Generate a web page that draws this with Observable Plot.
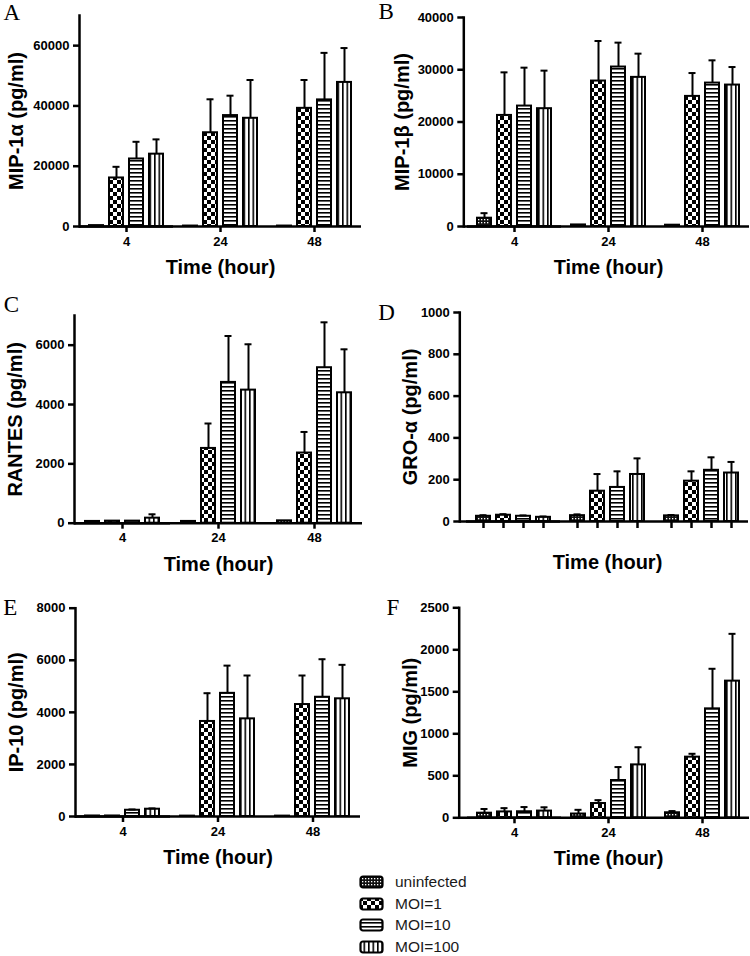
<!DOCTYPE html>
<html><head><meta charset="utf-8">
<script src="https://cdn.jsdelivr.net/npm/d3@7"></script>
<script src="https://cdn.jsdelivr.net/npm/@observablehq/plot@0.6"></script>
<style>
body{margin:0;background:#fff;}
#root{position:relative;width:750px;height:956px;overflow:hidden;background:#fff;}
.panel{position:absolute;}
#legend{position:absolute;left:359px;top:871px;font-family:'Liberation Sans',Arial,sans-serif;font-size:15.5px;color:#1a1a1a;}
.lrow{display:flex;align-items:center;height:21.7px;}
.lrow svg{margin-right:11px;}
</style></head><body>
<svg width="0" height="0" style="position:absolute">
<defs>
<pattern id="p-uninf" width="3" height="3" patternUnits="userSpaceOnUse"><rect width="3" height="3" fill="#111"/><rect x="0" y="0" width="1.3" height="1.3" fill="#fff"/></pattern>
<pattern id="p-moi1" width="8" height="8" patternUnits="userSpaceOnUse"><rect width="8" height="8" fill="#fff"/><rect width="4" height="4" fill="#000"/><rect x="4" y="4" width="4" height="4" fill="#000"/></pattern>
<pattern id="p-moi10" width="4" height="4" patternUnits="userSpaceOnUse"><rect width="4" height="4" fill="#fff"/><rect y="0" width="4" height="1.6" fill="#000"/></pattern>
<pattern id="p-moi100" width="4.5" height="4" patternUnits="userSpaceOnUse"><rect width="4.5" height="4" fill="#fff"/><rect x="0" width="1.6" height="4" fill="#000"/></pattern>
</defs></svg>
<div id="root"></div>
<script>
// ---------- data ----------
const times = ["4", "24", "48"];
const series = ["uninfected", "MOI=1", "MOI=10", "MOI=100"];
const xTitle = "Time (hour)";

// rows: time 4, 24, 48 ; columns: uninfected, MOI=1, MOI=10, MOI=100
const mip1aMean = [[300, 16100, 22400, 24000], [150, 31100, 36800, 35900], [150, 39200, 42000, 47800]];
const mip1aSD   = [[0, 3700, 5700, 4900], [0, 11100, 6600, 12700], [0, 9400, 15600, 11400]];
const mip1aTicks = [0, 20000, 40000, 60000];

const mip1bMean = [[1590, 21260, 23050, 22550], [300, 27840, 30520, 28540], [250, 24900, 27450, 27070]];
const mip1bSD   = [[960, 8240, 7350, 7280], [0, 7660, 4670, 4540], [0, 4470, 4350, 3450]];
const mip1bTicks = [0, 10000, 20000, 30000, 40000];

const rantesMean = [[60, 70, 70, 170], [60, 2520, 4745, 4485], [80, 2365, 5240, 4395]];
const rantesSD   = [[0, 0, 0, 130], [0, 840, 1565, 1545], [0, 710, 1530, 1465]];
const rantesTicks = [0, 2000, 4000, 6000];

const groMean = [[25, 30, 25, 20], [28, 145, 163, 225], [27, 193, 245, 232]];
const groSD   = [[5, 5, 4, 4], [6, 82, 77, 77], [4, 47, 62, 53]];
const groTicks = [0, 200, 400, 600, 800, 1000];

const ip10Mean = [[20, 20, 240, 280], [15, 3650, 4730, 3750], [15, 4300, 4580, 4520]];
const ip10SD   = [[0, 0, 30, 30], [0, 1085, 1065, 1665], [0, 1115, 1460, 1305]];
const ip10Ticks = [0, 2000, 4000, 6000, 8000];

const migMean = [[55, 70, 72, 80], [45, 170, 444, 630], [60, 722, 1297, 1627]];
const migSD   = [[50, 45, 56, 45], [50, 40, 160, 210], [20, 40, 477, 563]];
const migTicks = [0, 500, 1000, 1500, 2000, 2500];

// ---------- styling / layout ----------
const patternFills = ["url(#p-uninf)", "url(#p-moi1)", "url(#p-moi10)", "url(#p-moi100)"];
const sans = "'Liberation Sans', Arial, Helvetica, sans-serif";
const serif = "'Liberation Serif', 'Times New Roman', serif";

const panels = [
  {letter: "A", title: "MIP-1α (pg/ml)", mean: mip1aMean, sd: mip1aSD, ticks: mip1aTicks, max: 70000,
   left: 0, top: 0, mt: 15, mr: 13, mb: 64, ml: 78, shift: 0, ylab: -62.7, lx: -76, ly: -2.5, timeLabels: true},
  {letter: "B", title: "MIP-1β (pg/ml)", mean: mip1bMean, sd: mip1bSD, ticks: mip1bTicks, max: 40000,
   left: 375, top: 0, mt: 17, mr: 0, mb: 64, ml: 91, shift: -3.7, ylab: -61.7, lx: -85.3, ly: -5.7, timeLabels: true},
  {letter: "C", title: "RANTES (pg/ml)", mean: rantesMean, sd: rantesSD, ticks: rantesTicks, max: 7000,
   left: 0, top: 290, mt: 25, mr: 13, mb: 57.3, ml: 74, shift: 0, ylab: -58.7, lx: -70.7, ly: -11.2, timeLabels: true},
  {letter: "D", title: "GRO-α (pg/ml)", mean: groMean, sd: groSD, ticks: groTicks, max: 1000,
   left: 375, top: 290, mt: 22, mr: 2, mb: 59, ml: 90, shift: -6.7, ylab: -49, lx: -81.6, ly: -0.3, timeLabels: false},
  {letter: "E", title: "IP-10 (pg/ml)", mean: ip10Mean, sd: ip10SD, ticks: ip10Ticks, max: 8000,
   left: 0, top: 580, mt: 27.7, mr: 14, mb: 54, ml: 74, shift: 0, ylab: -58.7, lx: -72.3, ly: -1, timeLabels: true},
  {letter: "F", title: "MIG (pg/ml)", mean: migMean, sd: migSD, ticks: migTicks, max: 2500,
   left: 375, top: 580, mt: 27.3, mr: 0, mb: 52.7, ml: 91, shift: -8.3, ylab: -48.4, lx: -72.7, ly: -0.6, timeLabels: true}
];

function makePanel(p) {
  const rows = [];
  times.forEach((t, i) => series.forEach((s, j) => rows.push({
    time: t, series: s, value: p.mean[i][j], sd: p.sd[i][j], hi: p.mean[i][j] + p.sd[i][j]
  })));
  const errs = rows.filter(d => d.sd > 0);
  const marks = [
    Plot.barY(rows, {fx: "time", x: "series", y: "value", fill: "series", stroke: "#000", strokeWidth: 2}),
    Plot.ruleX(errs, {fx: "time", x: "series", y1: "value", y2: "hi", stroke: "#000", strokeWidth: 2}),
    Plot.tickY(errs, {fx: "time", x: "series", y: "hi", stroke: "#000", strokeWidth: 2, insetLeft: 3.5, insetRight: 3.5}),
    Plot.ruleY([0], {stroke: "#000", strokeWidth: 2.5}),
    Plot.ruleY([0], {facetAnchor: "left", insetLeft: p.shift, stroke: "#000", strokeWidth: 2.5}),
    Plot.frame({anchor: "left", facetAnchor: "left", dx: p.shift, stroke: "#000", strokeWidth: 2.5}),
    Plot.axisY({ticks: p.ticks, tickFormat: "d", tickSize: 6, tickPadding: 4, dx: p.shift, strokeWidth: 2.5,
      fontSize: 13, fontWeight: "bold", fontFamily: sans, label: null}),
    Plot.text([p.title], {text: d => d, frameAnchor: "left", facetAnchor: "left", rotate: -90,
      dx: p.shift + p.ylab, fontSize: 20, fontWeight: "bold", fontFamily: sans, lineAnchor: "middle", textAnchor: "middle"}),
    Plot.text([p.letter], {text: d => d, frameAnchor: "top-left", facetAnchor: "left",
      dx: p.shift + p.lx, dy: p.ly, fontSize: 23, fontWeight: "normal", fontFamily: serif, textAnchor: "start", lineAnchor: "middle"}),
    Plot.text([{time: times[1], t: xTitle}], {fx: "time", text: "t", frameAnchor: "bottom", dy: 41,
      fontSize: 20, fontWeight: "bold", fontFamily: sans, lineAnchor: "middle"})
  ];
  if (p.timeLabels) {
    marks.push(Plot.axisFx({anchor: "bottom", tickSize: 6, tickPadding: 4, strokeWidth: 2.5,
      fontSize: 13, fontWeight: "bold", fontFamily: sans, label: null}));
  } else {
    marks.push(Plot.axisX({anchor: "bottom", tickSize: 7, strokeWidth: 2.5, tickFormat: () => "", label: null}));
  }
  const chart = Plot.plot({
    width: 375, height: 290,
    marginTop: p.mt, marginRight: p.mr, marginBottom: p.mb, marginLeft: p.ml,
    style: {fontFamily: sans, fontWeight: "bold", fontSize: "13px", background: "transparent", overflow: "visible", color: "#000"},
    fx: {domain: times, padding: 0, ...(p.timeLabels ? {} : {axis: null})},
    x: {domain: series, paddingInner: 0.29, paddingOuter: 0.48, ...(p.timeLabels ? {axis: null} : {})},
    y: {domain: [0, p.max], axis: null},
    color: {domain: series, range: patternFills},
    marks
  });
  const div = document.createElement("div");
  div.className = "panel";
  div.style.left = p.left + "px";
  div.style.top = p.top + "px";
  div.appendChild(chart);
  return div;
}

const root = document.getElementById("root");
panels.forEach(p => root.appendChild(makePanel(p)));

// legend
const legend = document.createElement("div");
legend.id = "legend";
series.forEach((s, j) => {
  const row = document.createElement("div");
  row.className = "lrow";
  row.innerHTML = `<svg width="25" height="14"><rect x="1.5" y="1.5" width="22" height="11" rx="2.5" fill="${patternFills[j]}" stroke="#000" stroke-width="2.2"/></svg><span>${s}</span>`;
  legend.appendChild(row);
});
root.appendChild(legend);
</script>
</body></html>
